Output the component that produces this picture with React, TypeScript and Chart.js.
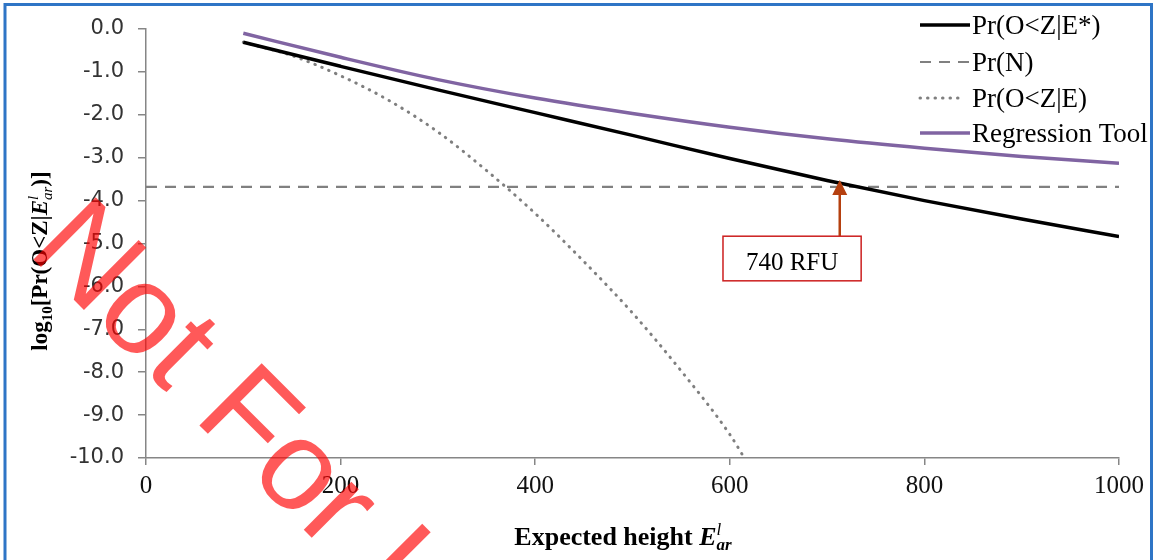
import React, { useEffect, useRef } from "react";
import { Chart, registerables } from "chart.js";

Chart.register(...registerables);

// ---- data ----
const expectedHeights = [100, 200, 300, 400, 500, 600, 700, 800, 900, 1000];
const prOZEStar = [-0.31, -0.87, -1.42, -1.95, -2.48, -3.02, -3.53, -4.0, -4.43, -4.84];
const regressionTool = [-0.1, -0.66, -1.18, -1.61, -1.97, -2.29, -2.56, -2.78, -2.97, -3.13];
const dottedHeights = [100, 150, 200, 250, 300, 350, 400, 450, 500, 550, 600, 615];
const prOZE = [-0.31, -0.62, -1.09, -1.67, -2.4, -3.3, -4.3, -5.42, -6.62, -7.97, -9.45, -10.0];
const dashedHeights = [0, 1000];
const prN = [-3.68, -3.68];

const seriesNames = ["Pr(O<Z|E*)", "Pr(N)", "Pr(O<Z|E)", "Regression Tool"];
const xTickValues = [0, 200, 400, 600, 800, 1000];
const yTickValues = [0, -1, -2, -3, -4, -5, -6, -7, -8, -9, -10];

const annotationLabel = "740 RFU";
const arrowX = 713;
const arrowTipY = -3.52;
const annotationBoxX = [593, 735];
const annotationBoxY = [-4.83, -5.87];
const watermarkText = "Not For Use";

// ---- styles ----
const seriesStyles = [
  { color: "#000000", width: 3.5, dash: [] as number[], cap: "butt" as CanvasLineCap, legendEnd: 970 },
  { color: "#808080", width: 2.2, dash: [11, 8], cap: "butt" as CanvasLineCap, legendEnd: 970 },
  { color: "#7f7f7f", width: 3, dash: [0.5, 7], cap: "round" as CanvasLineCap, legendEnd: 958 },
  { color: "#8064a2", width: 3.5, dash: [] as number[], cap: "butt" as CanvasLineCap, legendEnd: 970 },
];

const SERIF = "'Liberation Serif', 'Times New Roman', serif";

type Seg = { t: string; font: string; dy?: number; stackNext?: boolean };

function drawSegs(ctx: CanvasRenderingContext2D, segs: Seg[], x: number, y: number) {
  let total = 0;
  const widths: number[] = [];
  for (let i = 0; i < segs.length; i++) {
    ctx.font = segs[i].font;
    widths.push(ctx.measureText(segs[i].t).width);
  }
  for (let i = 0; i < segs.length; i++) {
    if (segs[i].stackNext) {
      total += Math.max(widths[i], widths[i + 1]);
      i++;
    } else total += widths[i];
  }
  let cx = x - total / 2;
  for (let i = 0; i < segs.length; i++) {
    const s = segs[i];
    ctx.font = s.font;
    ctx.fillText(s.t, cx, y + (s.dy || 0));
    if (s.stackNext) {
      const n = segs[i + 1];
      ctx.font = n.font;
      ctx.fillText(n.t, cx, y + (n.dy || 0));
      cx += Math.max(widths[i], widths[i + 1]);
      i++;
    } else cx += widths[i];
  }
}

const decorPlugin = {
  id: "decor",
  beforeDraw(chart: any) {
    const ctx = chart.ctx as CanvasRenderingContext2D;
    ctx.save();
    ctx.fillStyle = "#ffffff";
    ctx.fillRect(0, 0, chart.width, chart.height);
    ctx.restore();
  },
  afterDraw(chart: any) {
    const ctx = chart.ctx as CanvasRenderingContext2D;
    const xs = chart.scales.x;
    const ys = chart.scales.y;

    // axis titles
    ctx.save();
    ctx.fillStyle = "#000";
    ctx.textBaseline = "alphabetic";
    ctx.textAlign = "left";
    drawSegs(
      ctx,
      [
        { t: "Expected height ", font: `bold 26px ${SERIF}` },
        { t: "E", font: `italic bold 26px ${SERIF}` },
        { t: "l", font: `italic 17px ${SERIF}`, dy: -10, stackNext: true },
        { t: "ar", font: `italic bold 17px ${SERIF}`, dy: 5 },
      ],
      623,
      545
    );
    ctx.translate(47, 261);
    ctx.rotate(-Math.PI / 2);
    drawSegs(
      ctx,
      [
        { t: "log", font: `bold 23px ${SERIF}` },
        { t: "10", font: `bold 15px ${SERIF}`, dy: 5 },
        { t: "[Pr(O<Z|", font: `bold 23px ${SERIF}` },
        { t: "E", font: `italic bold 23px ${SERIF}` },
        { t: "l", font: `italic 15px ${SERIF}`, dy: -9, stackNext: true },
        { t: "ar", font: `italic 15px ${SERIF}`, dy: 5 },
        { t: ")]", font: `bold 23px ${SERIF}` },
      ],
      0,
      0
    );
    ctx.restore();

    // legend
    ctx.save();
    const legendRows = [25, 62, 98, 133];
    seriesNames.forEach((name, i) => {
      const st = seriesStyles[i];
      const y = legendRows[i];
      ctx.beginPath();
      ctx.strokeStyle = st.color;
      ctx.lineWidth = st.width;
      ctx.setLineDash(st.dash);
      ctx.lineCap = st.cap;
      ctx.moveTo(920, y);
      ctx.lineTo(st.legendEnd, y);
      ctx.stroke();
      ctx.setLineDash([]);
      ctx.fillStyle = "#000";
      ctx.font = `27px ${SERIF}`;
      ctx.textBaseline = "middle";
      ctx.textAlign = "left";
      ctx.fillText(name, 972, y + 2);
    });
    ctx.restore();

    // annotation (box + arrow)
    ctx.save();
    const ax = xs.getPixelForValue(arrowX);
    const tipY = ys.getPixelForValue(arrowTipY);
    const bx0 = xs.getPixelForValue(annotationBoxX[0]);
    const bx1 = xs.getPixelForValue(annotationBoxX[1]);
    const by0 = ys.getPixelForValue(annotationBoxY[0]);
    const by1 = ys.getPixelForValue(annotationBoxY[1]);
    ctx.strokeStyle = "#b5400f";
    ctx.fillStyle = "#b5400f";
    ctx.lineWidth = 2.5;
    ctx.beginPath();
    ctx.moveTo(ax, by0);
    ctx.lineTo(ax, tipY + 12);
    ctx.stroke();
    ctx.beginPath();
    ctx.moveTo(ax, tipY);
    ctx.lineTo(ax - 7.5, tipY + 15);
    ctx.lineTo(ax + 7.5, tipY + 15);
    ctx.closePath();
    ctx.fill();
    ctx.fillStyle = "#ffffff";
    ctx.fillRect(bx0, by0, bx1 - bx0, by1 - by0);
    ctx.strokeStyle = "#cc1f1f";
    ctx.lineWidth = 1.5;
    ctx.strokeRect(bx0, by0, bx1 - bx0, by1 - by0);
    ctx.fillStyle = "#000";
    ctx.font = `25px ${SERIF}`;
    ctx.textAlign = "center";
    ctx.textBaseline = "alphabetic";
    ctx.fillText(annotationLabel, (bx0 + bx1) / 2, by0 + 34);
    ctx.restore();

    // frame
    ctx.save();
    ctx.strokeStyle = "#2e75c6";
    ctx.lineWidth = 3;
    ctx.strokeRect(5, 4.5, 1146.5, 570);
    ctx.restore();

    // watermark
    ctx.save();
    ctx.translate(26, 252);
    ctx.rotate(Math.PI / 4);
    ctx.fillStyle = "rgba(255, 0, 0, 0.65)";
    ctx.font = "128px 'Liberation Sans', Arial, sans-serif";
    ctx.textAlign = "left";
    ctx.textBaseline = "alphabetic";
    ctx.fillText(watermarkText, 0, 0);
    ctx.restore();
  },
};

function toPoints(xsArr: number[], ysArr: number[]) {
  return xsArr.map((x, i) => ({ x, y: ysArr[i] }));
}

export default function App() {
  const canvasRef = useRef<HTMLCanvasElement | null>(null);

  useEffect(() => {
    if (!canvasRef.current) return;
    const seriesData = [
      toPoints(expectedHeights, prOZEStar),
      toPoints(dashedHeights, prN),
      toPoints(dottedHeights, prOZE),
      toPoints(expectedHeights, regressionTool),
    ];
    const chart = new Chart(canvasRef.current, {
      type: "line",
      data: {
        datasets: seriesNames.map((name, i) => ({
          label: name,
          data: seriesData[i],
          borderColor: seriesStyles[i].color,
          backgroundColor: seriesStyles[i].color,
          borderWidth: seriesStyles[i].width,
          borderDash: seriesStyles[i].dash,
          borderCapStyle: seriesStyles[i].cap,
          pointRadius: 0,
          fill: false,
          cubicInterpolationMode: "monotone",
        })),
      },
      options: {
        responsive: false,
        animation: false,
        events: [],
        layout: { padding: { left: 0, right: 39, top: 29, bottom: 0 } },
        plugins: { legend: { display: false }, tooltip: { enabled: false } },
        scales: {
          x: {
            type: "linear",
            min: 0,
            max: 1000,
            afterFit: (s: any) => {
              s.height = 102;
            },
            afterBuildTicks: (s: any) => {
              s.ticks = xTickValues.map((v) => ({ value: v }));
            },
            ticks: {
              color: "#111",
              font: { family: "Liberation Serif", size: 25 },
              padding: 6,
              maxRotation: 0,
              autoSkip: false,
              callback: (v: any) => String(v),
            },
            grid: { drawOnChartArea: false, drawTicks: true, tickLength: 7, color: "#868686", lineWidth: 1.5 },
            border: { display: true, color: "#868686", width: 1.5 },
          },
          y: {
            type: "linear",
            min: -10,
            max: 0,
            afterFit: (s: any) => {
              s.width = 146;
            },
            afterBuildTicks: (s: any) => {
              s.ticks = yTickValues.map((v) => ({ value: v }));
            },
            ticks: {
              color: "#333333",
              font: { family: "DejaVu Sans", size: 21 },
              padding: 14,
              autoSkip: false,
              callback: (v: any) => Number(v).toFixed(1),
            },
            grid: { drawOnChartArea: false, drawTicks: true, tickLength: 8, color: "#868686", lineWidth: 1.5 },
            border: { display: true, color: "#868686", width: 1.5 },
          },
        },
      },
      plugins: [decorPlugin],
    } as any);
    return () => chart.destroy();
  }, []);

  return (
    <div style={{ position: "absolute", left: 0, top: 0, width: 1158, height: 560, overflow: "hidden", background: "#fff" }}>
      <canvas ref={canvasRef} width={1158} height={560} style={{ display: "block", width: 1158, height: 560 }} />
    </div>
  );
}
